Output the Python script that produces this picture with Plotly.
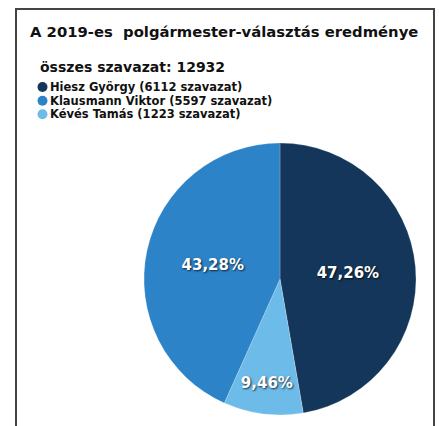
import plotly.graph_objects as go

candidates = ["Hiesz György", "Kévés Tamás", "Klausmann Viktor"]
votes = [6112, 1223, 5597]
colors = ["#14365a", "#6dbbe9", "#2d83c8"]
legend_order = [0, 2, 1]
total_votes = 12932
title = "A 2019-es  polgármester-választás eredménye"

W, H = 439, 426
FONT = "DejaVu Sans"

def px(x):
    return x / W

def py(y):
    return 1 - y / H

cx, cy, r = 280, 279, 136

fig = go.Figure()
fig.add_trace(go.Pie(
    labels=candidates,
    values=votes,
    sort=False,
    direction="clockwise",
    rotation=0,
    marker=dict(colors=colors, line=dict(width=0.6, color="rgba(255,255,255,0.35)")),
    texttemplate="%{percent:.2%}",
    textposition="inside",
    insidetextorientation="horizontal",
    textfont=dict(family=FONT, size=15, color="white", weight="bold",
                  shadow="1px 1px 2px rgba(0,0,0,0.75)"),
    hoverinfo="label+value+percent",
    showlegend=False,
    domain=dict(x=[px(cx - r), px(cx + r)], y=[py(cy + r), py(cy - r)]),
))

annotations = [
    dict(text="<b>" + title + "</b>", x=px(28), y=py(31), xref="paper", yref="paper",
         xanchor="left", yanchor="middle", showarrow=False,
         font=dict(family=FONT, size=14.8, color="#111")),
    dict(text="<b>összes szavazat: " + str(total_votes) + "</b>", x=px(38), y=py(67),
         xref="paper", yref="paper", xanchor="left", yanchor="middle", showarrow=False,
         font=dict(family=FONT, size=14, color="#111")),
]
shapes = [dict(type="rect", xref="paper", yref="paper",
               x0=px(16), x1=px(434), y0=-0.2, y1=py(9),
               line=dict(color="#444", width=2))]
row_y = [87, 100.7, 114.3]
for k, i in enumerate(legend_order):
    yc = row_y[k]
    annotations.append(dict(
        text=f"<b>{candidates[i]} ({votes[i]} szavazat)</b>",
        x=px(48), y=py(yc), xref="paper", yref="paper",
        xanchor="left", yanchor="middle", showarrow=False,
        font=dict(family=FONT, size=11.5, color="#111")))
    shapes.append(dict(type="circle", xref="paper", yref="paper",
                       x0=px(37.5), x1=px(47.5), y0=py(yc + 5), y1=py(yc - 5),
                       fillcolor=colors[i], line=dict(width=0)))

fig.update_layout(
    width=W, height=H,
    margin=dict(l=0, r=0, t=0, b=0),
    paper_bgcolor="white",
    separators=", ",
    annotations=annotations,
    shapes=shapes,
)

fig.write_html("out.html", config={"displayModeBar": False},
               post_script="document.body.style.margin='0px';")
